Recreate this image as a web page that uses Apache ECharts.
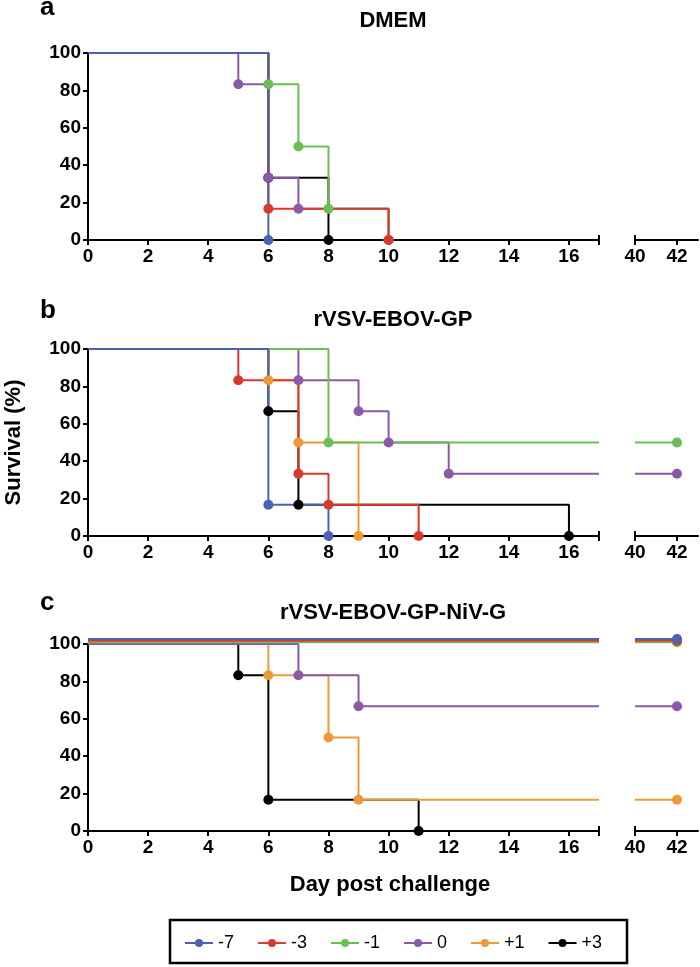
<!DOCTYPE html>
<html>
<head>
<meta charset="utf-8">
<script src="https://cdn.jsdelivr.net/npm/echarts@6/dist/echarts.min.js"></script>
<style>
  html, body { margin: 0; padding: 0; background: #fff; }
  #chart { width: 700px; height: 967px; }
</style>
</head>
<body>
<div id="chart"></div>
<script>
var groups = ['-7', '-3', '-1', '0', '+1', '+3']
var colorList = ['#4a62b3', '#d8392b', '#6dbd55', '#8b5aa7', '#ee9a38', '#000000']

// tick labels
var dayTicks = [0, 2, 4, 6, 8, 10, 12, 14, 16]
var lateTicks = [40, 42]
var survivalTicks = [0, 20, 40, 60, 80, 100]

// survival at day 0 per group (null = group not in panel)
// each step: [day of death, survival % after it]
var dmemStart = [100, 100, 100, 100, null, 100]
var dmemSteps = [
  [[6, 0]],
  [[6, 16.7], [10, 0]],
  [[6, 83.3], [7, 50], [8, 16.7], [10, 0]],
  [[5, 83.3], [6, 33.3], [7, 16.7], [10, 0]],
  [],
  [[6, 33.3], [8, 0]]
]

var gpStart = [100, 100, 100, 100, 100, 100]
var gpSteps = [
  [[6, 16.7], [8, 0]],
  [[5, 83.3], [7, 33.3], [8, 16.7], [11, 0]],
  [[8, 50]],
  [[7, 83.3], [9, 66.7], [10, 50], [12, 33.3]],
  [[6, 83.3], [7, 50], [9, 0]],
  [[6, 66.7], [7, 16.7], [16, 0]]
]

var nivStart = [102.7, 101.8, 100.9, 100, 100, 100]
var nivSteps = [
  [],
  [],
  [],
  [[7, 83.3], [9, 66.7]],
  [[6, 83.3], [8, 50], [9, 16.7]],
  [[5, 83.3], [6, 16.7], [11, 0]]
]

var panelTops = [53, 349, 644]
var panelHeight = 187
var fontName = 'Liberation Sans'

var grids = []
var xAxes = []
var yAxes = []
panelTops.forEach(function(top, p) {
  grids.push({ left: 88, top: top, width: 511, height: panelHeight, outerBoundsMode: 'none' })
  grids.push({ left: 635, top: top, width: 63, height: panelHeight, outerBoundsMode: 'none' })
  var axisBase = {
    type: 'value',
    axisLine: { lineStyle: { color: '#000', width: 2 } },
    axisTick: { length: 5, lineStyle: { color: '#000', width: 2 } },
    axisLabel: { color: '#000', fontSize: 19, fontWeight: 'bold', fontFamily: fontName, margin: 7 },
    splitLine: { show: false }
  }
  xAxes.push(Object.assign({}, axisBase, {
    gridIndex: p * 2,
    min: 0,
    max: 17,
    interval: 2,
    axisLine: { symbol: ['none', 'rect'], symbolSize: [10, 2], lineStyle: { color: '#000', width: 2 } },
    axisTick: Object.assign({}, axisBase.axisTick, { customValues: dayTicks }),
    axisLabel: Object.assign({}, axisBase.axisLabel, { customValues: dayTicks })
  }))
  xAxes.push(Object.assign({}, axisBase, {
    gridIndex: p * 2 + 1,
    min: 40,
    max: 43,
    interval: 2,
    axisLine: { symbol: ['rect', 'none'], symbolSize: [10, 2], lineStyle: { color: '#000', width: 2 } },
    axisTick: Object.assign({}, axisBase.axisTick, { customValues: lateTicks }),
    axisLabel: Object.assign({}, axisBase.axisLabel, { customValues: lateTicks })
  }))
  yAxes.push(Object.assign({}, axisBase, {
    gridIndex: p * 2,
    min: 0,
    max: 100,
    interval: 20,
    axisTick: Object.assign({}, axisBase.axisTick, { customValues: survivalTicks }),
    axisLabel: Object.assign({}, axisBase.axisLabel, { customValues: survivalTicks }),
    name: p === 1 ? 'Survival (%)' : '',
    nameLocation: 'middle',
    nameGap: 63,
    nameTextStyle: { color: '#000', fontSize: 22, fontWeight: 'bold', fontFamily: fontName }
  }))
  yAxes.push({ type: 'value', gridIndex: p * 2 + 1, min: 0, max: 100, show: false })
})

function buildSeries(p, start, steps) {
  var list = []
  // reversed so -7 is drawn on top, as in the figure
  for (var i = groups.length - 1; i >= 0; i--) {
    if (start[i] === null) continue
    var pts = [{ value: [0, start[i]], symbol: 'none' }]
    steps[i].forEach(function(s) {
      pts.push({ value: s })
    })
    var last = pts[pts.length - 1].value[1]
    if (last > 0) pts.push({ value: [17, last], symbol: 'none' })
    var base = {
      name: groups[i],
      type: 'line',
      step: 'end',
      symbol: 'circle',
      symbolSize: 10,
      showSymbol: true,
      clip: false,
      animation: false,
      color: colorList[i],
      lineStyle: { width: 2, color: colorList[i] },
      itemStyle: { color: colorList[i] }
    }
    list.push(Object.assign({}, base, { xAxisIndex: p * 2, yAxisIndex: p * 2, data: pts }))
    if (last > 0) {
      list.push(Object.assign({}, base, {
        xAxisIndex: p * 2 + 1,
        yAxisIndex: p * 2 + 1,
        data: [{ value: [40, last], symbol: 'none' }, { value: [42, last] }]
      }))
    }
  }
  return list
}

var series = []
  .concat(buildSeries(0, dmemStart, dmemSteps))
  .concat(buildSeries(1, gpStart, gpSteps))
  .concat(buildSeries(2, nivStart, nivSteps))

var titleStyle = { color: '#000', fontSize: 22, fontWeight: 'bold', fontFamily: fontName }
var letterStyle = { color: '#000', fontSize: 26, fontWeight: 'bold', fontFamily: fontName }

var option = {
  backgroundColor: '#fff',
  title: [
    { text: 'a', left: 40, top: -5, padding: 0, textStyle: letterStyle },
    { text: 'b', left: 40, top: 298, padding: 0, textStyle: letterStyle },
    { text: 'c', left: 40, top: 590, padding: 0, textStyle: letterStyle },
    { text: 'DMEM', left: 393, top: 10, padding: 0, textAlign: 'center', textStyle: titleStyle },
    { text: 'rVSV-EBOV-GP', left: 393, top: 309, padding: 0, textAlign: 'center', textStyle: titleStyle },
    { text: 'rVSV-EBOV-GP-NiV-G', left: 393, top: 602, padding: 0, textAlign: 'center', textStyle: titleStyle },
    { text: 'Day post challenge', left: 390, top: 874, padding: 0, textAlign: 'center', textStyle: titleStyle }
  ],
  legend: {
    data: groups,
    left: 184,
    top: 934,
    padding: 0,
    itemWidth: 28,
    itemHeight: 10,
    itemGap: 23,
    textStyle: { color: '#000', fontSize: 18, fontFamily: fontName }
  },
  graphic: [
    {
      type: 'rect',
      shape: { x: 170, y: 920, width: 457, height: 43 },
      style: { fill: 'none', stroke: '#000', lineWidth: 2.5 }
    }
  ],
  grid: grids,
  xAxis: xAxes,
  yAxis: yAxes,
  series: series
}

var myChart = echarts.init(document.getElementById('chart'))
myChart.setOption(option)
</script>
</body>
</html>
